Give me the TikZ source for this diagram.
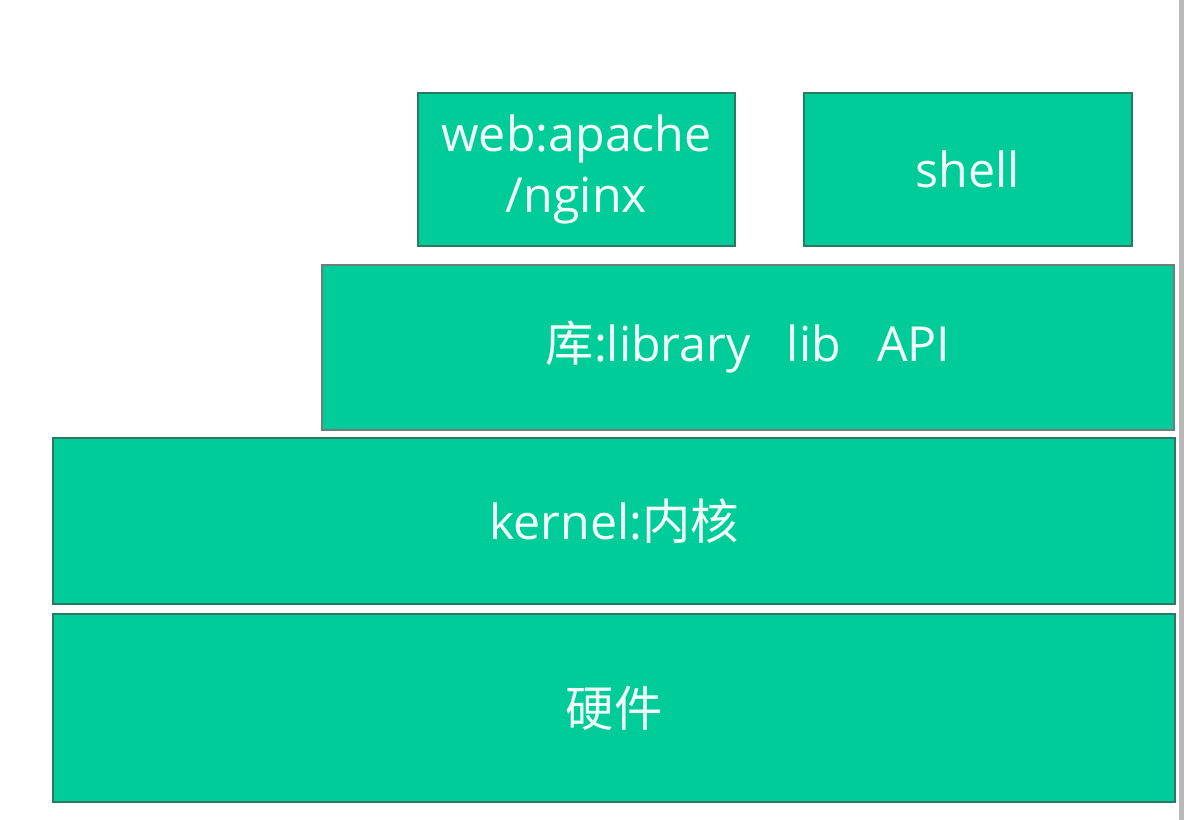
\documentclass[tikz,border=0pt]{standalone}
\usepackage{fontspec}
\setmainfont{Open Sans}
\newfontfamily\cjk{Noto Sans CJK SC}
\definecolor{layerfill}{HTML}{00CC99}
\definecolor{layerline}{HTML}{2A7A62}
\definecolor{layertext}{HTML}{F2FFF9}
\begin{document}
\begin{tikzpicture}[x=0.02cm,y=-0.02cm,
    layer/.style={draw=layerline,fill=layerfill,line width=1.2pt,text=layertext,
        font=\fontsize{27.5}{35}\selectfont,align=center,inner sep=0pt}]
        \useasboundingbox[fill=white] (0,0) rectangle (1184,820);
        %% window edge
        \fill[gray!55] (1179,0) rectangle (1184,820);
        %% top row
        \node[layer,minimum width=6.34cm,minimum height=3.06cm] (web) at (576.5,169.5) {web:apache\\/nginx};
        \node[layer,minimum width=6.56cm,minimum height=3.06cm] (shell) at (968,169.5) {shell};
        %% library
        \node[layer,draw=gray!80!layerline,minimum width=17.04cm,minimum height=3.3cm] (lib) at (748,347.5) {{\cjk 库}:library\hspace{0.75em}lib\hspace{0.75em}API};
        %% kernel
        \node[layer,minimum width=22.44cm,minimum height=3.32cm] (kernel) at (614,521) {kernel:{\cjk 内核}};
        %% hardware
        \node[layer,minimum width=22.44cm,minimum height=3.76cm] (hw) at (614,708) {{\cjk 硬件}};
    \end{tikzpicture}
\end{document}
